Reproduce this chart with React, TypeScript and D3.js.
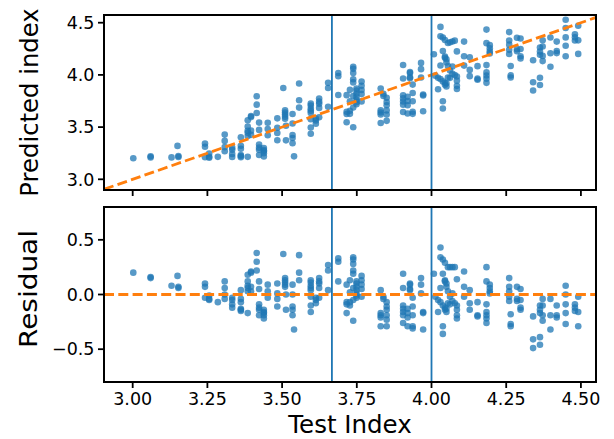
import React from "react";
import * as d3 from "d3";

// Test index values (clusters) and residuals (predicted - test) per cluster
const testIndex: number[] = [
  3.002, 3.06, 3.13, 3.15, 3.153, 3.242, 3.256, 3.285, 3.308, 3.333,
  3.362, 3.385, 3.396, 3.415, 3.423, 3.439, 3.452, 3.484, 3.504, 3.51,
  3.513, 3.535, 3.54, 3.557, 3.596, 3.613, 3.624, 3.654, 3.688, 3.716,
  3.727, 3.738, 3.749, 3.766, 3.83, 3.839, 3.85, 3.905, 3.92, 3.928,
  3.937, 3.965, 3.972, 4.008, 4.013, 4.022, 4.03, 4.038, 4.045, 4.05,
  4.055, 4.062, 4.07, 4.078, 4.085, 4.109, 4.128, 4.154, 4.184, 4.195,
  4.26, 4.265, 4.286, 4.298, 4.34, 4.363, 4.372, 4.398, 4.419, 4.449,
  4.48, 4.491,
];

const residualSets: number[][] = [
  [0.2], [0.16, 0.15], [0.08], [0.17], [0.06, 0.07],
  [0.1, 0.07, -0.03], [-0.01, -0.05, -0.04], [-0.07], [0.12, 0.06, 0.0, -0.04], [-0.03, -0.05, -0.09, -0.12],
  [0.04, -0.04, -0.07, -0.13, -0.15, -0.14], [0.18, 0.12, 0.08, 0.06, 0.03, -0.17], [0.21, 0.2, 0.07, 0.03], [0.38, 0.3, 0.22], [0.12, 0.05, -0.09, -0.12, -0.14, -0.19],
  [-0.14, -0.16, -0.17, -0.19, -0.22], [0.09, 0.03, -0.03], [0.1, 0.01, -0.04, -0.11], [0.37], [0.15, 0.13, 0.11, 0.09, 0.07],
  [0.0, -0.14], [0.09, 0.0, -0.11, -0.14, -0.19], [-0.32], [0.36, 0.2, 0.13], [0.13, 0.11, 0.08, 0.06, 0.04, -0.02, -0.1, -0.16],
  [-0.03, -0.05, -0.08], [0.15, 0.12, 0.1, 0.06, -0.03], [0.27, 0.22, 0.04], [0.33, 0.3, 0.12], [0.09, -0.07, -0.09, -0.17],
  [0.13, -0.1, -0.07, 0.02], [0.34, 0.32, 0.28, 0.22, 0.19, -0.24, 0.06, -0.05], [0.12, 0.07, 0.04, 0.01, -0.01, 0.1, -0.03], [0.17, 0.13, 0.09, 0.05, -0.02], [0.04, -0.17, -0.19, -0.21, -0.29],
  [-0.02, -0.04], [-0.07, -0.11, -0.14, -0.19, -0.23, -0.29], [0.19, 0.06, -0.1, -0.13, -0.16, -0.19, -0.26], [-0.13, -0.17, -0.21, -0.29], [0.09, 0.1, 0.05, 0.04],
  [-0.03, -0.11, -0.19, -0.29, -0.31], [0.15, 0.09, 0.01], [-0.16, -0.17, -0.32], [0.19], [-0.02],
  [-0.16, -0.05], [0.06, -0.07, 0.43, 0.34], [0.32, 0.19, -0.1, -0.29, -0.36], [0.29, 0.13, 0.12, -0.14, -0.12], [0.1, 0.07, -0.13, -0.16],
  [0.25, 0.03, -0.08], [0.25, -0.09, -0.02], [0.25, 0.01, -0.06], [0.25, -0.08], [0.14, -0.1, -0.14, -0.19, -0.22],
  [0.21, 0.07, -0.02], [0.04, -0.08, -0.14], [-0.07, -0.19, -0.2], [0.25, 0.12, -0.09, -0.16, -0.19, -0.22, -0.26], [0.09, 0.06, 0.03, 0.01],
  [0.15, 0.07, 0.03, -0.02, -0.06], [-0.18, -0.27, -0.29], [0.07, -0.04, -0.06], [0.05, -0.05, -0.12, -0.14], [-0.2, -0.41, -0.49],
  [-0.1, -0.14, -0.17, -0.39, -0.46], [-0.04, -0.1, -0.19, -0.24], [-0.04, -0.19, -0.32], [-0.1, -0.19, -0.21], [0.08, 0.0, -0.09, -0.17, -0.27],
  [-0.09, -0.12, -0.15], [-0.02, -0.16, -0.29],
];

const splitLines: number[] = [3.6667, 4.0];
const xTicks: number[] = [3.0, 3.25, 3.5, 3.75, 4.0, 4.25, 4.5];
const topTicks: number[] = [3.0, 3.5, 4.0, 4.5];
const resTicks: number[] = [-0.5, 0.0, 0.5];

const BLUE = "#1f77b4";
const ORANGE = "#ff7f0e";
const FONT = "DejaVu Sans";

export default function App() {
  const W = 614, H = 439;
  const L = 104, R = 596;
  const top = { t: 15, b: 190 };
  const bot = { t: 207, b: 382 };

  const x = d3.scaleLinear().domain([2.904, 4.5505]).range([L, R]);
  const yTop = d3.scaleLinear().domain([2.8975, 4.5738]).range([top.b, top.t]);
  const yRes = d3.scaleLinear().domain([-0.8, 0.8]).range([bot.b, bot.t]);

  const points = testIndex.flatMap((t, i) =>
    residualSets[i].map((r) => ({ t, r, p: t + r }))
  );

  const fmt2 = d3.format(".2f");
  const fmt1 = (v: number) => d3.format(".1f")(v).replace("-", "\u2212");

  const [xd0, xd1] = x.domain();
  const diag = d3.line<number>().x((v) => x(v)).y((v) => yTop(v));

  const panel = (
    y: d3.ScaleLinear<number, number>,
    box: { t: number; b: number },
    id: string,
    ticks: number[],
    showXLabels: boolean,
    content: React.ReactNode
  ) => (
    <g>
      <clipPath id={id}>
        <rect x={L} y={box.t} width={R - L} height={box.b - box.t} />
      </clipPath>
      <g clipPath={`url(#${id})`}>{content}</g>
      {splitLines.map((v, i) => (
        <line key={"v" + i} x1={x(v)} x2={x(v)} y1={box.t} y2={box.b} stroke={BLUE} strokeWidth={1.8} />
      ))}
      <rect x={L} y={box.t} width={R - L} height={box.b - box.t} fill="none" stroke="#000" strokeWidth={2} />
      {ticks.map((v, i) => (
        <g key={"yt" + i}>
          <line x1={L - 6} x2={L} y1={y(v)} y2={y(v)} stroke="#000" strokeWidth={1.8} />
          <text x={L - 9.5} y={y(v)} dy="0.36em" textAnchor="end" fontSize={17.5} fontFamily={FONT} fill="#000">
            {fmt1(v)}
          </text>
        </g>
      ))}
      {xTicks.map((v, i) => (
        <g key={"xt" + i}>
          <line x1={x(v)} x2={x(v)} y1={box.b} y2={box.b + 6} stroke="#000" strokeWidth={1.8} />
          {showXLabels && (
            <text x={x(v)} y={405} textAnchor="middle" fontSize={17.5} fontFamily={FONT} fill="#000">
              {fmt2(v)}
            </text>
          )}
        </g>
      ))}
    </g>
  );

  return (
    <svg width={W} height={H} style={{ position: "absolute", left: 0, top: 0, background: "#fff" }}>
      {panel(
        yTop,
        top,
        "clipTop",
        topTicks,
        false,
        <>
          {points.map((d, i) => (
            <circle key={i} cx={x(d.t)} cy={yTop(d.p)} r={3.3} fill={BLUE} fillOpacity={0.75} />
          ))}
          <path d={diag([xd0, xd1]) || ""} fill="none" stroke={ORANGE} strokeWidth={2.8} strokeDasharray="10 4.3" />
        </>
      )}
      {panel(
        yRes,
        bot,
        "clipBot",
        resTicks,
        true,
        <>
          {points.map((d, i) => (
            <circle key={i} cx={x(d.t)} cy={yRes(d.r)} r={3.3} fill={BLUE} fillOpacity={0.75} />
          ))}
          <line x1={L} x2={R} y1={yRes(0)} y2={yRes(0)} stroke={ORANGE} strokeWidth={2.8} strokeDasharray="10 4.3" />
        </>
      )}
      <text transform={`translate(38,${(top.t + top.b) / 2}) rotate(-90)`} textAnchor="middle" fontSize={24.3} fontFamily={FONT} fill="#000">
        Predicted index
      </text>
      <text transform={`translate(37,289) rotate(-90)`} textAnchor="middle" fontSize={25} textLength={118} lengthAdjust="spacingAndGlyphs" fontFamily={FONT} fill="#000">
        Residual
      </text>
      <text x={(L + R) / 2} y={433} textAnchor="middle" fontSize={24.5} fontFamily={FONT} fill="#000">
        Test Index
      </text>
    </svg>
  );
}
